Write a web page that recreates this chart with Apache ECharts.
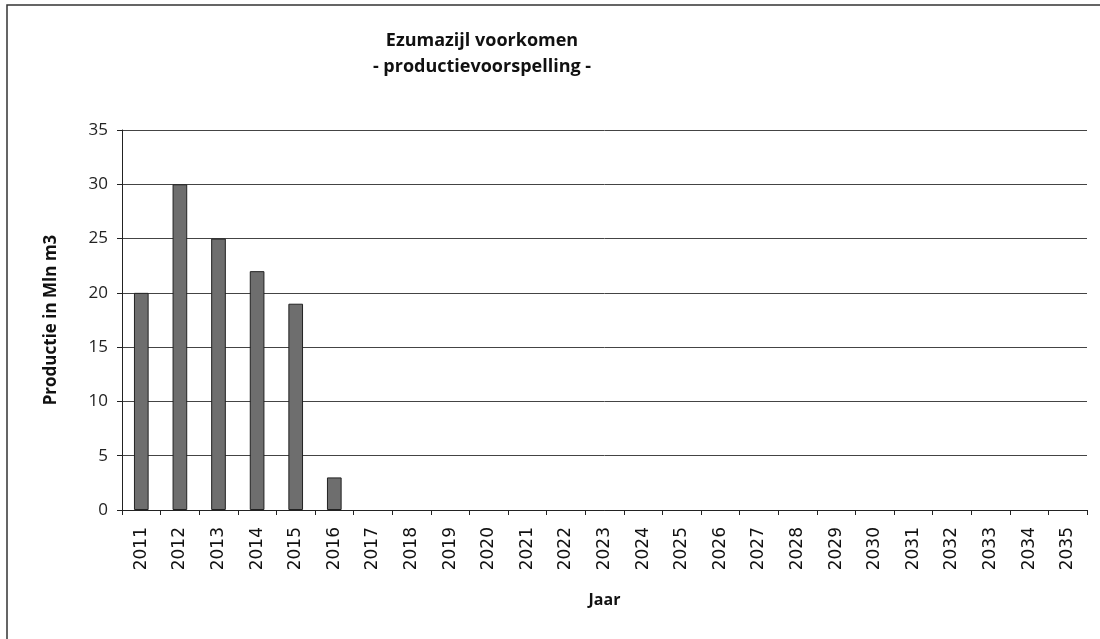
<!DOCTYPE html>
<html>
<head>
<meta charset="utf-8">
<script src="https://cdn.jsdelivr.net/npm/echarts@6/dist/echarts.min.js"></script>
<style>
  html, body { margin: 0; padding: 0; background: #fff; }
  #chart { width: 1100px; height: 639px; }
</style>
</head>
<body>
<div id="chart"></div>
<script>
// data
var jaren = ["2011", "2012", "2013", "2014", "2015", "2016", "2017", "2018", "2019", "2020",
  "2021", "2022", "2023", "2024", "2025", "2026", "2027", "2028", "2029", "2030",
  "2031", "2032", "2033", "2034", "2035"];
var productie = [20, 30, 25, 22, 19, 3, 0, 0, 0, 0, 0, 0, 0, 0, 0, 0, 0, 0, 0, 0, 0, 0, 0, 0, 0];

var chart = echarts.init(document.getElementById("chart"));

// no outline on empty years, otherwise a small stub shows on the axis
var barData = productie.map(function (v) {
  return v === 0 ? { value: v, itemStyle: { borderWidth: 0 } } : v;
});

chart.setOption({
  backgroundColor: "#fff",
  animation: false,
  title: {
    text: "Ezumazijl voorkomen\n- productievoorspelling -",
    left: 477,
    top: 23,
    textAlign: "center",
    textStyle: {
      fontFamily: "Open Sans",
      fontSize: 18,
      fontWeight: "bold",
      color: "#111",
      lineHeight: 26,
    },
  },
  grid: {
    left: 122,
    right: 13,
    top: 130,
    bottom: 129,
  },
  xAxis: {
    type: "category",
    data: jaren,
    name: "Jaar",
    nameLocation: "middle",
    nameGap: 82,
    nameTextStyle: {
      fontFamily: "Open Sans",
      fontSize: 16,
      fontWeight: "bold",
      color: "#111",
    },
    axisLine: { lineStyle: { color: "#222", width: 1 } },
    axisTick: { show: true, length: 5, lineStyle: { color: "#222" } },
    axisLabel: {
      rotate: 90,
      interval: 0,
      margin: 17,
      fontFamily: "DejaVu Sans",
      fontSize: 17,
      color: "#111",
    },
  },
  yAxis: {
    type: "value",
    min: 0,
    max: 35,
    interval: 5,
    name: "Productie in Mln m3",
    nameLocation: "middle",
    nameGap: 62,
    nameTextStyle: {
      fontFamily: "Open Sans",
      fontSize: 17,
      fontWeight: "bold",
      color: "#111",
    },
    axisLine: { show: true, lineStyle: { color: "#222", width: 1 } },
    axisTick: { show: true, length: 5, lineStyle: { color: "#222" } },
    axisLabel: {
      margin: 14,
      fontFamily: "Open Sans",
      fontSize: 17,
      color: "#222",
    },
    splitLine: { lineStyle: { color: "#444", width: 1 } },
  },
  series: [
    {
      type: "bar",
      data: barData,
      barWidth: "38%",
      itemStyle: {
        color: "#6e6e6e",
        borderColor: "#222",
        borderWidth: 1,
      },
    },
  ],
  graphic: [
    {
      type: "rect",
      shape: { x: 7, y: 5, width: 1110, height: 660 },
      style: { fill: null, stroke: "#333", lineWidth: 1.5 },
      silent: true,
    },
  ],
});
</script>
</body>
</html>
